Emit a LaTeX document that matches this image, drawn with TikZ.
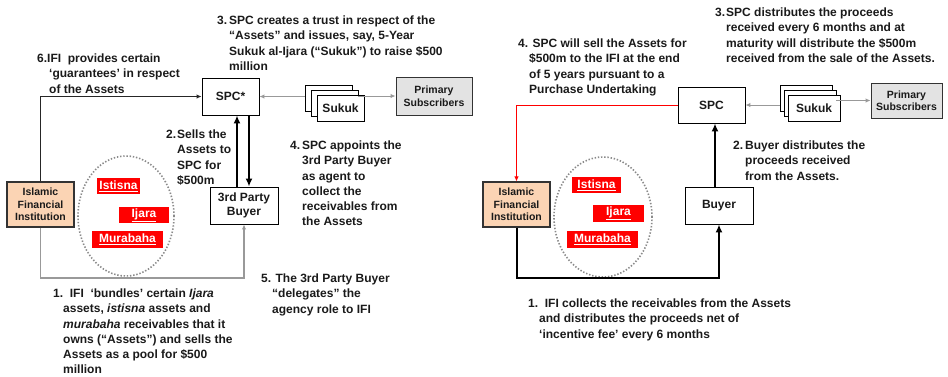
\documentclass[tikz,border=0pt]{standalone}
\usepackage{fontspec}
\setmainfont{Liberation Sans}
\usetikzlibrary{arrows.meta,shapes.geometric}
\definecolor{peach}{HTML}{FBD4B4}
\definecolor{lgray}{HTML}{E3E3E3}
\definecolor{agray}{HTML}{999999}
\definecolor{dgray}{HTML}{8A8A8A}
\definecolor{txt}{HTML}{1A1A1A}
\definecolor{ared}{HTML}{FF0000}
\begin{document}
\begin{tikzpicture}[x=1pt,y=-1pt,
  box/.style={draw=black, line width=0.9pt, fill=white, align=center, inner sep=0pt,
    text=txt, font=\fontsize{12}{14}\selectfont\bfseries},
  ifibox/.style={box, draw=black!80, line width=1.1pt, fill=peach,
    font=\fontsize{10.5}{12.5}\selectfont\bfseries, minimum width=67, minimum height=45},
  primbox/.style={box, draw=black!80, fill=lgray,
    font=\fontsize{10.5}{12.5}\selectfont\bfseries},
  sheet/.style={box, line width=0.8pt},
  tag/.style={fill=ared, text=white, inner sep=0pt, font=\fontsize{12}{14}\selectfont\bfseries},
  pool/.style={ellipse, draw=dgray, line width=1.6pt, dash pattern=on 1.4pt off 1.8pt, inner sep=0pt},
  ann/.style={anchor=north west, inner sep=0pt, align=left, text=txt,
    font=\fontsize{12}{15.3}\selectfont\bfseries},
  grayarr/.style={draw=agray, line width=1pt, -{Latex[length=5pt,width=4.5pt]}},
  thinarr/.style={draw=black!85, line width=1pt, -{Latex[length=5pt,width=4.5pt]}},
  redarr/.style={draw=ared, line width=1pt, -{Latex[length=5pt,width=4.5pt]}},
  thk/.style={draw=black, line width=2pt, -{Latex[length=8pt,width=7pt]}}
]
\useasboundingbox (0,0) rectangle (948,376);

% ================= LEFT =================
\node[box, minimum width=57, minimum height=37] (spcL) at (230.5,96.5) {SPC*};
\node[sheet, minimum width=47, minimum height=26] (sukLc) at (328.5,98) {};
\node[sheet, minimum width=47, minimum height=26] (sukLb) at (334.5,103) {};
\node[sheet, minimum width=47, minimum height=26] (sukLa) at (340.5,108) {Sukuk};
\node[primbox, minimum width=76, minimum height=38] (primL) at (434,96) {Primary\\Subscribers};
\node[ifibox] (ifiL) at (40.5,204.5) {Islamic\\Financial\\Institution};
\node[pool, minimum width=96, minimum height=120] (poolL) at (126,216) {};
\node[tag, minimum width=43, minimum height=16] (istL) at (118.5,186) {\underline{Istisna}};
\node[tag, minimum width=50, minimum height=16] (ijaL) at (144,215) {\underline{Ijara}};
\node[tag, minimum width=71, minimum height=17] (murL) at (127.5,239.5) {\underline{Murabaha}};
\node[box, minimum width=68, minimum height=37] (buyL) at (244,205.5) {3rd Party\\Buyer};
\coordinate (botL) at (0,278);

\draw[grayarr] (sukLc.west |- spcL.east) -- (spcL.east);
\draw[grayarr] (sukLb.east |- primL.west) -- (primL.west);
\draw[thinarr] (ifiL.north) |- (spcL.west);
\draw[thk] ([xshift=-7pt]buyL.north) -- ([xshift=-7pt]buyL.north |- spcL.south);
\draw[thk] ([xshift=5pt]buyL.north |- spcL.south) -- ([xshift=5pt]buyL.north);
\draw[grayarr, line width=1.3pt] (ifiL.south) -- (ifiL.south |- botL) -| (buyL.south);

\node[ann] (t3L) at (217,15.5) {\makebox[12pt][l]{3.}SPC creates a trust in respect of the\\
  \hspace*{12pt}“Assets” and issues, say, 5-Year\\
  \hspace*{12pt}Sukuk al-Ijara (“Sukuk”) to raise \$500\\
  \hspace*{12pt}million};
\node[ann] (t6L) at (37,53.5) {\makebox[10pt][l]{6.}IFI\ \ provides certain\\
  \hspace*{12pt}‘guarantees’ in respect\\
  \hspace*{12pt}of the Assets};
\node[ann] (t2L) at (166,129.5) {\makebox[11pt][l]{2.}Sells the\\
  \hspace*{11pt}Assets to\\
  \hspace*{11pt}SPC for\\
  \hspace*{11pt}\$500m};
\node[ann] (t4L) at (290,140.5) {\makebox[12pt][l]{4.}SPC appoints the\\
  \hspace*{12pt}3rd Party Buyer\\
  \hspace*{12pt}as agent to\\
  \hspace*{12pt}collect the\\
  \hspace*{12pt}receivables from\\
  \hspace*{12pt}the Assets};
\node[ann] (t5L) at (261,273.5) {5. The 3rd Party Buyer\\
  \hspace*{11pt}“delegates” the\\
  \hspace*{11pt}agency role to IFI};
\node[ann] (t1L) at (53,288.5) {1.\ \ IFI\ \ ‘bundles’ certain \textit{Ijara}\\
  \hspace*{10pt}assets, \textit{istisna} assets and\\
  \hspace*{10pt}\textit{murabaha} receivables that it\\
  \hspace*{10pt}owns (“Assets”) and sells the\\
  \hspace*{10pt}Assets as a pool for \$500\\
  \hspace*{10pt}million};

% ================= RIGHT =================
\node[box, minimum width=67, minimum height=36] (spcR) at (711.5,105) {SPC};
\node[sheet, minimum width=52, minimum height=26] (sukRc) at (806,98) {};
\node[sheet, minimum width=52, minimum height=26] (sukRb) at (810,103) {};
\node[sheet, minimum width=52, minimum height=26] (sukRa) at (814,108) {Sukuk};
\node[primbox, minimum width=71, minimum height=35] (primR) at (906.5,100.5) {Primary\\Subscribers};
\node[ifibox] (ifiR) at (516.5,204.5) {Islamic\\Financial\\Institution};
\node[pool, minimum width=98, minimum height=120] (poolR) at (603,217) {};
\node[tag, minimum width=49, minimum height=16] (istR) at (596.5,185) {\underline{Istisna}};
\node[tag, minimum width=51, minimum height=17] (ijaR) at (618.5,213.5) {\underline{Ijara}};
\node[tag, minimum width=71, minimum height=17] (murR) at (602.5,239.5) {\underline{Murabaha}};
\node[box, minimum width=68, minimum height=37] (buyR) at (719,205.5) {Buyer};
\coordinate (botR) at (0,278);

\draw[grayarr] (sukRc.west |- spcR.east) -- (spcR.east);
\draw[grayarr] (sukRb.east |- primR.west) -- (primR.west);
\draw[redarr] (spcR.west) -| (ifiR.north);
\draw[thk, line width=2.4pt] ([xshift=-4pt]buyR.north) -- ([xshift=-4pt]buyR.north |- spcR.south);
\draw[thk] (ifiR.south) -- (ifiR.south |- botR) -| (buyR.south);

\node[ann] (t3R) at (715,7.5) {\makebox[11pt][l]{3.}SPC distributes the proceeds\\
  \hspace*{11pt}received every 6 months and at\\
  \hspace*{11pt}maturity will distribute the \$500m\\
  \hspace*{11pt}received from the sale of the Assets.};
\node[ann] (t4R) at (518,38.5) {4. SPC will sell the Assets for\\
  \hspace*{11pt}\$500m to the IFI at the end\\
  \hspace*{11pt}of 5 years pursuant to a\\
  \hspace*{11pt}Purchase Undertaking};
\node[ann] (t2R) at (733,140.5) {\makebox[12pt][l]{2.}Buyer distributes the\\
  \hspace*{12pt}proceeds received\\
  \hspace*{12pt}from the Assets.};
\node[ann] (t1R) at (528,298.5) {1.\ \ IFI collects the receivables from the Assets\\
  \hspace*{11pt}and distributes the proceeds net of\\
  \hspace*{11pt}‘incentive fee’ every 6 months};
\end{tikzpicture}
\end{document}
